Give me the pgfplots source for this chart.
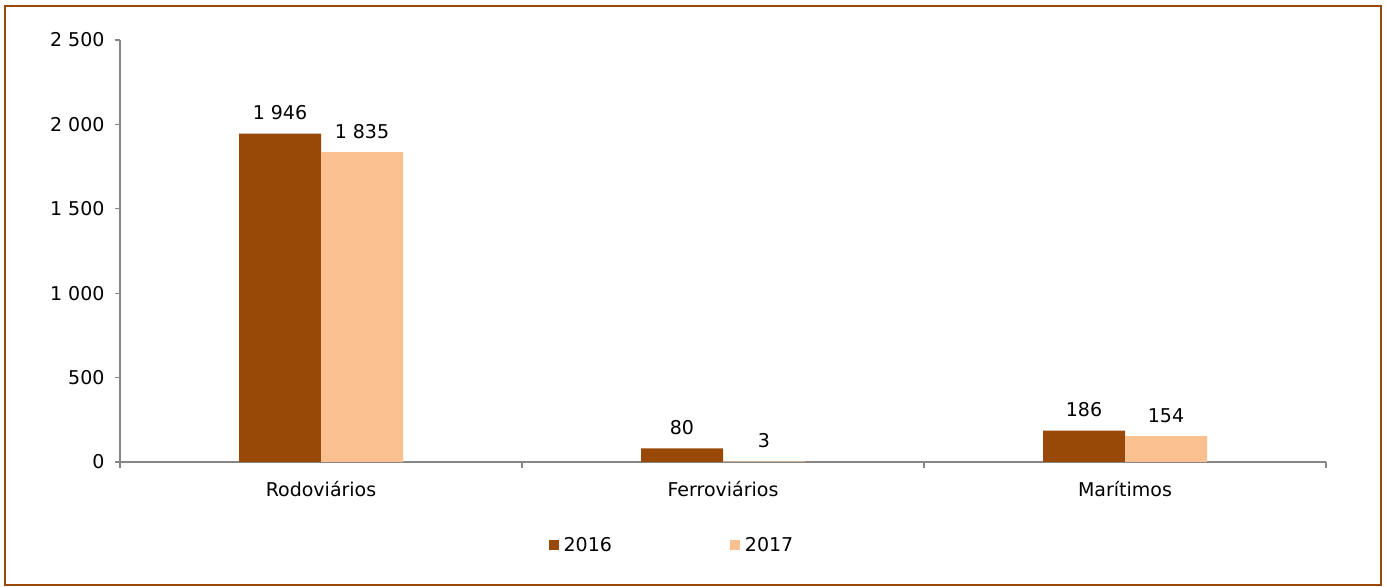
\documentclass[border=0pt]{standalone}
\usepackage{pgfplots}
\pgfplotsset{compat=1.18}
\usepackage{fontspec}
\setmainfont{DejaVu Sans}
\definecolor{c16}{HTML}{984807}
\definecolor{c17}{HTML}{FAC090}
\definecolor{axg}{HTML}{868686}
\begin{document}
\begin{tikzpicture}
\useasboundingbox (0,0) rectangle (1387bp,587bp);
\draw[c16, line width=2bp] (5bp,2bp) rectangle (1381bp,581bp);
\begin{axis}[
  at={(120bp,125bp)}, anchor=south west,
  scale only axis, width=1206bp, height=422bp,
  xmin=-0.5, xmax=2.5, ymin=0, ymax=2500,
  ybar=0pt, bar width=82bp,
  axis x line*=bottom, axis y line*=left,
  axis line style={axg, line width=1.2bp, -},
  xtick={0,1,2}, xticklabels={Rodoviários,Ferroviários,Marítimos},
  x tick style={draw=none},
  extra x ticks={-0.5,0.5,1.5,2.5},
  extra x tick labels={},
  extra x tick style={x tick style={draw=axg, line width=1.2bp}, major tick length=6bp},
  ytick={0,500,...,2500},
  y tick style={axg, line width=1.2bp},
  major tick length=5bp,
  tick align=outside,
  every tick label/.append style={font=\fontsize{19bp}{22bp}\selectfont, text=black},
  yticklabel style={xshift=-7bp},
  xticklabel style={yshift=-11bp},
  /pgf/number format/.cd, 1000 sep={\ }, assume math mode=true, /pgfplots/.cd,
  nodes near coords,
  nodes near coords style={font=\fontsize{19bp}{22bp}\selectfont, text=black, yshift=10bp},
  legend style={at={(0.4577,-0.197)}, anchor=center, draw=none, legend columns=2,
    font=\fontsize{19bp}{22bp}\selectfont,
    /tikz/every even column/.append style={column sep=116bp}},
  legend image code/.code={\fill[#1] (0bp,-5bp) rectangle (10bp,5bp); \path (0bp,0bp) -- (13bp,0bp);},
]
\addplot[fill=c16, draw=none] coordinates {(0,1946) (1,80) (2,186)};
\addplot[fill=c17, draw=none] coordinates {(0,1835) (1,3) (2,154)};
\legend{2016,2017}
\end{axis}
\end{tikzpicture}
\end{document}
